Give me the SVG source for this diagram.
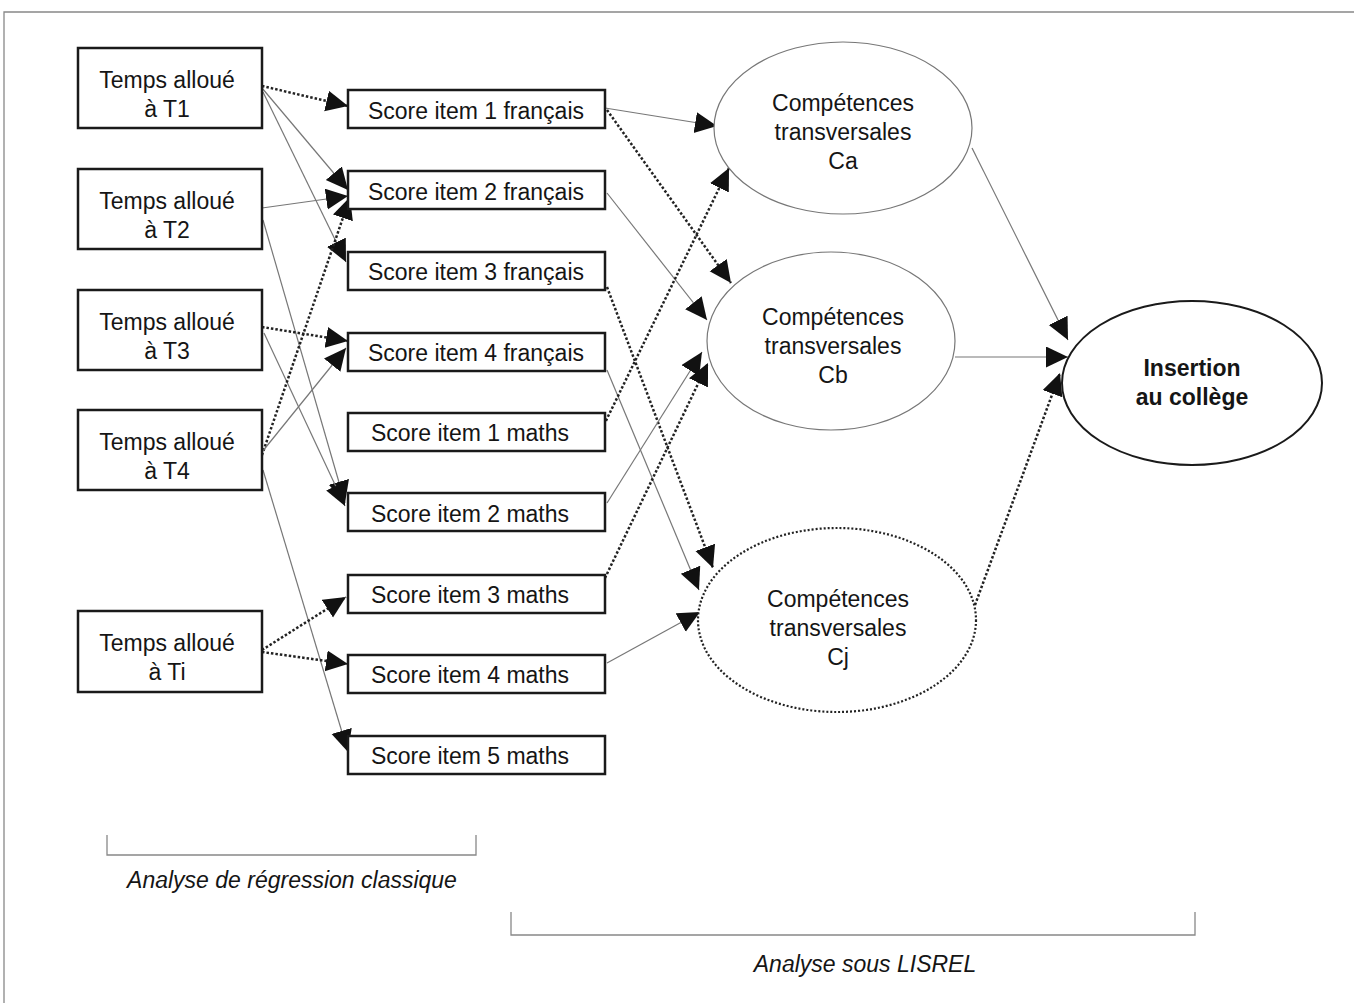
<svg xmlns="http://www.w3.org/2000/svg" width="1354" height="1003" viewBox="0 0 1354 1003">
<defs>
<marker id="ah" markerUnits="userSpaceOnUse" markerWidth="24" markerHeight="24" refX="22" refY="10.5" orient="auto">
<path d="M0,0 L22,10.5 L0,21 z" fill="#111"/>
</marker>
<style>
text{font-family:"Liberation Sans",Arial,sans-serif;font-size:23px;fill:#151515;text-anchor:middle}
.box{fill:#fff;stroke:#1a1a1a;stroke-width:2.5}
.ell{fill:#fff;stroke:#777;stroke-width:1.2}
.ellb{fill:#fff;stroke:#1a1a1a;stroke-width:2}
.elld{fill:#fff;stroke:#222;stroke-width:2.2;stroke-dasharray:2 2}
.s{stroke:#777;stroke-width:1.2;fill:none;marker-end:url(#ah)}
.d{stroke:#222;stroke-width:2.5;stroke-dasharray:2.5 2;fill:none;marker-end:url(#ah)}
.br{stroke:#888;stroke-width:1.3;fill:none}
.it{font-style:italic}
.b{font-weight:bold}
</style>
</defs>
<rect width="1354" height="1003" fill="#fff"/>
<path d="M4,1003 V12 H1354" class="br" stroke="#555"/>

<g id="connectors">
<line class="d" x1="262" y1="86" x2="348" y2="106"/>
<line class="s" x1="262" y1="88" x2="348" y2="190"/>
<line class="s" x1="263" y1="92" x2="346" y2="262"/>
<line class="s" x1="262" y1="208" x2="348" y2="196"/>
<line class="s" x1="263" y1="220" x2="345" y2="503"/>
<line class="d" x1="262" y1="327" x2="348" y2="341"/>
<line class="s" x1="264" y1="333" x2="345" y2="506"/>
<line class="d" x1="262" y1="455" x2="350" y2="197"/>
<line class="s" x1="262" y1="452" x2="346" y2="348"/>
<line class="s" x1="263" y1="470" x2="348" y2="752"/>
<line class="d" x1="262" y1="650" x2="346" y2="597"/>
<line class="d" x1="262" y1="652" x2="348" y2="664"/>

<line class="s" x1="605" y1="108" x2="717" y2="126"/>
<line class="d" x1="607" y1="110" x2="731" y2="283"/>
<line class="s" x1="607" y1="193" x2="707" y2="320"/>
<line class="d" x1="607" y1="287" x2="713" y2="568"/>
<line class="s" x1="607" y1="370" x2="699" y2="590"/>
<line class="d" x1="600" y1="433" x2="729" y2="168"/>
<line class="s" x1="607" y1="503" x2="702" y2="352"/>
<line class="d" x1="605" y1="578" x2="708" y2="363"/>
<line class="s" x1="607" y1="663" x2="700" y2="612"/>

<line class="s" x1="972" y1="148" x2="1068" y2="340"/>
<line class="s" x1="955" y1="357" x2="1068" y2="357"/>
<line class="d" x1="975" y1="605" x2="1060" y2="373"/>
</g>

<g id="T1"><rect class="box" x="78" y="48" width="184" height="80"/><text x="167" y="88">Temps alloué</text><text x="167" y="117">à T1</text></g>
<g id="T2"><rect class="box" x="78" y="169" width="184" height="80"/><text x="167" y="209">Temps alloué</text><text x="167" y="238">à T2</text></g>
<g id="T3"><rect class="box" x="78" y="290" width="184" height="80"/><text x="167" y="330">Temps alloué</text><text x="167" y="359">à T3</text></g>
<g id="T4"><rect class="box" x="78" y="410" width="184" height="80"/><text x="167" y="450">Temps alloué</text><text x="167" y="479">à T4</text></g>
<g id="Ti"><rect class="box" x="78" y="611" width="184" height="81"/><text x="167" y="651">Temps alloué</text><text x="167" y="680">à Ti</text></g>

<g id="fr1"><rect class="box" x="348" y="90" width="257" height="38"/><text x="476" y="119">Score item 1 français</text></g>
<g id="fr2"><rect class="box" x="348" y="171" width="257" height="38"/><text x="476" y="200">Score item 2 français</text></g>
<g id="fr3"><rect class="box" x="348" y="252" width="257" height="38"/><text x="476" y="280">Score item 3 français</text></g>
<g id="fr4"><rect class="box" x="348" y="333" width="257" height="38"/><text x="476" y="361">Score item 4 français</text></g>
<g id="m1"><rect class="box" x="348" y="413" width="257" height="38"/><text x="470" y="441">Score item 1 maths</text></g>
<g id="m2"><rect class="box" x="348" y="493" width="257" height="38"/><text x="470" y="522">Score item 2 maths</text></g>
<g id="m3"><rect class="box" x="348" y="575" width="257" height="38"/><text x="470" y="603">Score item 3 maths</text></g>
<g id="m4"><rect class="box" x="348" y="655" width="257" height="38"/><text x="470" y="683">Score item 4 maths</text></g>
<g id="m5"><rect class="box" x="348" y="736" width="257" height="38"/><text x="470" y="764">Score item 5 maths</text></g>

<g id="Ca"><ellipse class="ell" cx="843" cy="128" rx="129" ry="86"/><text x="843" y="111">Compétences</text><text x="843" y="140">transversales</text><text x="843" y="169">Ca</text></g>
<g id="Cb"><ellipse class="ell" cx="831" cy="341" rx="124" ry="89"/><text x="833" y="325">Compétences</text><text x="833" y="354">transversales</text><text x="833" y="383">Cb</text></g>
<g id="Cj"><ellipse class="elld" cx="837" cy="620" rx="139" ry="92"/><text x="838" y="607">Compétences</text><text x="838" y="636">transversales</text><text x="838" y="665">Cj</text></g>
<g id="Insertion"><ellipse class="ellb" cx="1192" cy="383" rx="130" ry="82"/><text class="b" x="1192" y="376">Insertion</text><text class="b" x="1192" y="405">au collège</text></g>

<g id="brackets">
<path class="br" d="M107,835 V855 H476 V835"/>
<text class="it" x="292" y="888">Analyse de régression classique</text>
<path class="br" d="M511,912 V935 H1195 V912"/>
<text class="it" x="865" y="972">Analyse sous LISREL</text>
</g>
</svg>
